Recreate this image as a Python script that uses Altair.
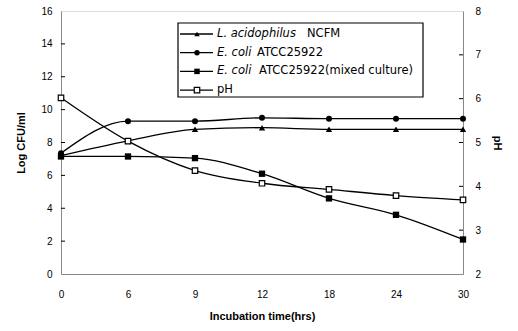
import altair as alt
import pandas as pd

times = ["0", "6", "9", "12", "18", "24", "30"]
lacid = [7.2, 8.1, 8.8, 8.9, 8.8, 8.8, 8.8]
ecoli = [7.35, 9.3, 9.3, 9.5, 9.45, 9.45, 9.45]
mixed = [7.15, 7.15, 7.05, 6.1, 4.6, 3.6, 2.1]
ph = [6.02, 5.03, 4.36, 4.07, 3.93, 3.79, 3.69]
left_ticks = [2, 4, 6, 8, 10, 12, 14]
right_ticks = [3, 4, 5, 6, 7]

FONT = "Liberation Sans"
LFONT = "DejaVu Sans"
W, H = 402, 263

df = pd.DataFrame({"t": times, "lacid": lacid, "ecoli": ecoli, "mixed": mixed, "ph": ph})

X = alt.X("t:N", sort=times, scale=alt.Scale(type="point", padding=0),
          axis=alt.Axis(title="Incubation time(hrs)", labelAngle=0, ticks=False,
                        labelPadding=15, titlePadding=11, grid=False))

yl_scale = alt.Scale(domain=[0, 16], nice=False, zero=False)
yl_axis = alt.Axis(title="Log CFU/ml", values=list(range(0, 17, 2)), ticks=False, grid=False,
                   orient="left", labelPadding=9, titlePadding=14)
yr_scale = alt.Scale(domain=[2, 8], nice=False, zero=False)
yr_axis = alt.Axis(title="pH", values=list(range(2, 9)), ticks=False, grid=False,
                   orient="right", labelPadding=12, titlePadding=11)


def series(field, shape, filled, size, scale, axis):
    base = alt.Chart(df).encode(x=X, y=alt.Y(f"{field}:Q", scale=scale, axis=axis))
    line = base.mark_line(color="black", strokeWidth=1.3, interpolate="monotone")
    pts = base.mark_point(shape=shape, filled=filled, color="black", size=size,
                          fill="black" if filled else "white", opacity=1, strokeWidth=1.2)
    return [line, pts]


left_layers = []
left_layers += series("lacid", "triangle-up", True, 40, yl_scale, yl_axis)
left_layers += series("ecoli", "circle", True, 36, yl_scale, yl_axis)
left_layers += series("mixed", "square", True, 40, yl_scale, yl_axis)
lt = alt.Chart(pd.DataFrame({"v": left_ticks})).mark_rule(color="black", strokeWidth=1).encode(
    x=alt.value(0), x2=alt.value(4), y=alt.Y("v:Q", scale=yl_scale, axis=yl_axis))
left_layers.append(lt)
left = alt.layer(*left_layers)

right_layers = series("ph", "square", False, 30, yr_scale, yr_axis)
rt = alt.Chart(pd.DataFrame({"v": right_ticks})).mark_rule(color="black", strokeWidth=1).encode(
    x=alt.value(W - 4), x2=alt.value(W), y=alt.Y("v:Q", scale=yr_scale, axis=yr_axis))
right_layers.append(rt)
right = alt.layer(*right_layers)

# manual legend (layout only)
leg_names = ["L. acidophilus", "E. coli", "E. coli", "pH"]
leg_rest = ["NCFM", "ATCC25922", "ATCC25922(mixed culture)", ""]
leg_shapes = ["triangle-up", "circle", "square", "square"]
leg_filled = [True, True, True, False]
leg_rest_x = [246, 196, 198, 0]
one = pd.DataFrame({"k": [0]})
bx0, bx1, by0, by1 = 117, 362, 12, 86
legend_layers = [alt.Chart(one).mark_rect(fill="white", stroke="black", strokeWidth=1.2).encode(
    x=alt.value(bx0), x2=alt.value(bx1), y=alt.value(by0), y2=alt.value(by1))]
for i in range(4):
    yy = 23 + i * 18.7
    legend_layers.append(alt.Chart(one).mark_rule(color="black", strokeWidth=1.3).encode(
        x=alt.value(119), x2=alt.value(152), y=alt.value(yy)))
    legend_layers.append(alt.Chart(one).mark_point(
        shape=leg_shapes[i], filled=leg_filled[i], color="black",
        fill="black" if leg_filled[i] else "white", opacity=1,
        size=30, strokeWidth=1.2).encode(x=alt.value(136), y=alt.value(yy)))
    if i < 3:
        legend_layers.append(alt.Chart(one).mark_text(
            text=leg_names[i], font=LFONT, fontSize=11.5, fontStyle="italic", align="left",
            baseline="middle", color="black").encode(x=alt.value(156), y=alt.value(yy)))
        legend_layers.append(alt.Chart(one).mark_text(
            text=leg_rest[i], font=LFONT, fontSize=11.5, align="left",
            baseline="middle", color="black").encode(x=alt.value(leg_rest_x[i]), y=alt.value(yy)))
    else:
        legend_layers.append(alt.Chart(one).mark_text(
            text=leg_names[i], font=LFONT, fontSize=11.5, align="left",
            baseline="middle", color="black").encode(x=alt.value(156), y=alt.value(yy)))

chart = alt.layer(left, right, *legend_layers).resolve_scale(y="independent").properties(
    width=W, height=H, autosize="none",
    padding={"left": 61, "top": 11, "right": 55, "bottom": 57},
).configure_view(stroke="black", strokeWidth=1).configure_axis(
    labelFont=FONT, titleFont=FONT, labelFontSize=12, titleFontSize=12,
    labelFontWeight="bold", titleFontWeight="bold",
    labelColor="black", titleColor="black",
    domainColor="black", domainWidth=2,
).configure(background="white")

chart.save("out.html", embed_options={"renderer": "svg", "actions": False})
